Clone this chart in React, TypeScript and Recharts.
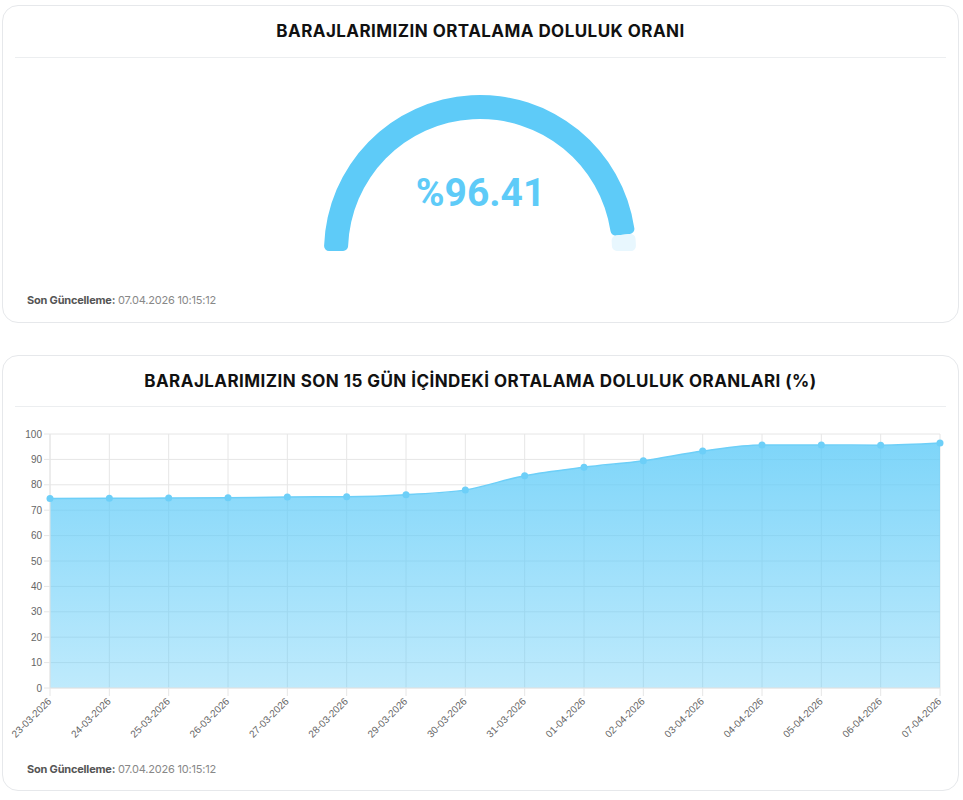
import React from "react";
import { PieChart, Pie, Cell, AreaChart, Area, XAxis, YAxis, CartesianGrid } from "recharts";

// gauge value
const FILL_PERCENT = 96.41;
const GAUGE_MAX = 100;

// last 15 days
const DATES = [
  "23-03-2026", "24-03-2026", "25-03-2026", "26-03-2026", "27-03-2026",
  "28-03-2026", "29-03-2026", "30-03-2026", "31-03-2026", "01-04-2026",
  "02-04-2026", "03-04-2026", "04-04-2026", "05-04-2026", "06-04-2026",
  "07-04-2026",
];
const RATES = [
  74.6, 74.7, 74.8, 74.9, 75.2, 75.3, 76.1, 78.0, 83.6, 86.9,
  89.5, 93.3, 95.7, 95.7, 95.6, 96.41,
];
const Y_TICKS = [0, 10, 20, 30, 40, 50, 60, 70, 80, 90, 100];

const LAST_UPDATE = "07.04.2026 10:15:12";

const BLUE = "#5ecbf8";
const FONT = "Inter, 'Noto Sans', sans-serif";

const card: React.CSSProperties = {
  position: "absolute",
  left: 2,
  width: 957,
  background: "#fff",
  border: "1px solid #e6e8eb",
  borderRadius: 16,
  boxSizing: "border-box",
};

const titleStyle: React.CSSProperties = {
  position: "absolute",
  left: 0,
  right: 0,
  textAlign: "center",
  fontFamily: FONT,
  fontWeight: 700,
  fontSize: 17,
  letterSpacing: 0.45,
  color: "#111",
};

function Footer({ top }: { top: number }) {
  return (
    <div
      style={{
        position: "absolute",
        left: 24,
        top,
        fontFamily: FONT,
        fontSize: 11,
        color: "#888",
        letterSpacing: -0.2,
      }}
    >
      <span style={{ fontWeight: 700, color: "#555" }}>Son Güncelleme:</span> {LAST_UPDATE}
    </div>
  );
}

function DateTick(props: any) {
  const { x, y, payload } = props;
  return (
    <text
      x={x + 2}
      y={y + 4}
      transform={`rotate(-45, ${x + 2}, ${y + 4})`}
      textAnchor="end"
      fontSize={10}
      fontFamily="'Liberation Sans', Arial, sans-serif"
      fill="#666"
    >
      {payload.value}
    </text>
  );
}

export default function App() {
  const gaugeData = [
    { name: "dolu", value: FILL_PERCENT },
    { name: "bos", value: GAUGE_MAX - FILL_PERCENT },
  ];
  const chartData = DATES.map((d, i) => ({ date: d, rate: RATES[i] }));

  return (
    <div style={{ position: "absolute", left: 0, top: 0, width: 963, height: 800, background: "#fff" }}>
      {/* gauge card */}
      <div style={{ ...card, top: 5, height: 318 }}>
        <div style={{ ...titleStyle, top: 15 }}>BARAJLARIMIZIN ORTALAMA DOLULUK ORANI</div>
        <div style={{ position: "absolute", left: 12, right: 12, top: 51, height: 1, background: "#eceef0" }} />
        <div style={{ position: "absolute", left: 0, top: 0 }}>
          <PieChart width={957} height={318}>
            <Pie
              data={gaugeData}
              dataKey="value"
              cx={472}
              cy={240}
              startAngle={180}
              endAngle={0}
              innerRadius={132}
              outerRadius={156}
              cornerRadius={5}
              stroke="none"
              isAnimationActive={false}
            >
              <Cell fill={BLUE} />
              <Cell fill="#e8f7fe" />
            </Pie>
          </PieChart>
        </div>
        <div
          style={{
            position: "absolute",
            left: 0,
            right: 0,
            top: 164,
            textAlign: "center",
            fontFamily: "Roboto, sans-serif",
            fontWeight: 700,
            fontSize: 39,
            color: BLUE,
          }}
        >
          %{FILL_PERCENT.toFixed(2)}
        </div>
        <Footer top={287} />
      </div>

      {/* 15-day card */}
      <div style={{ ...card, top: 355, height: 436 }}>
        <div style={{ ...titleStyle, top: 15 }}>BARAJLARIMIZIN SON 15 GÜN İÇİNDEKİ ORTALAMA DOLULUK ORANLARI (%)</div>
        <div style={{ position: "absolute", left: 12, right: 12, top: 50, height: 1, background: "#eceef0" }} />
        <div style={{ position: "absolute", left: 0, top: 70 }}>
          <AreaChart
            width={948}
            height={330}
            data={chartData}
            margin={{ top: 8, right: 11, left: 17, bottom: 8 }}
          >
            <defs>
              <linearGradient id="rateFill" x1="0" y1="0" x2="0" y2="1">
                <stop offset="0%" stopColor={BLUE} stopOpacity={0.8} />
                <stop offset="100%" stopColor={BLUE} stopOpacity={0.4} />
              </linearGradient>
            </defs>
            <CartesianGrid stroke="#e6e6e6" />
            <XAxis
              dataKey="date"
              interval={0}
              height={60}
              tick={<DateTick />}
              tickSize={8}
              tickLine={{ stroke: "#e6e6e6" }}
              axisLine={{ stroke: "#e6e6e6" }}
            />
            <YAxis
              width={30}
              domain={[0, 100]}
              ticks={Y_TICKS}
              tickSize={6}
              tickMargin={2}
              tick={{ fontSize: 10, fill: "#666", fontFamily: "'Liberation Sans', Arial, sans-serif" }}
              tickLine={{ stroke: "#e6e6e6" }}
              axisLine={{ stroke: "#e6e6e6" }}
            />
            <Area
              type="monotone"
              dataKey="rate"
              stroke="#6dcff8"
              strokeWidth={1.5}
              fill="url(#rateFill)"
              fillOpacity={1}
              dot={{ r: 3.5, fill: "#6dcff8", stroke: "#6dcff8", strokeWidth: 0 }}
              isAnimationActive={false}
            />
          </AreaChart>
        </div>
        <Footer top={406} />
      </div>
    </div>
  );
}
